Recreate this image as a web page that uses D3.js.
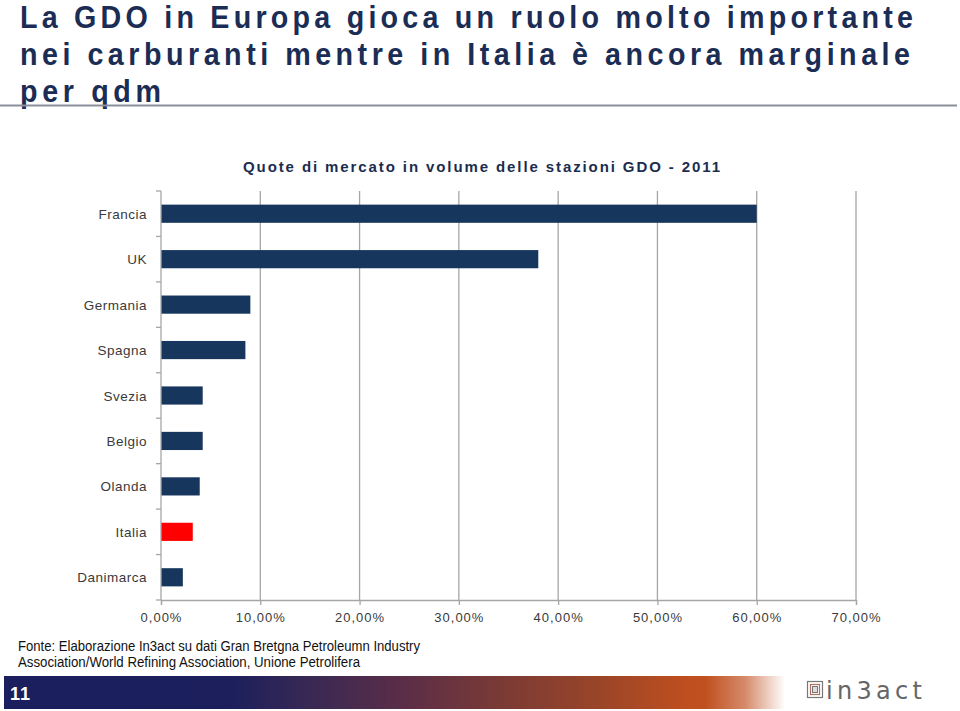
<!DOCTYPE html>
<html><head><meta charset="utf-8">
<script src="https://cdn.jsdelivr.net/npm/d3@7"></script>
<style>
html,body{margin:0;padding:0;background:#fff;}
svg{display:block;}
</style></head>
<body>
<script>
const categories = ["Francia","UK","Germania","Spagna","Svezia","Belgio","Olanda","Italia","Danimarca"];
const values = [60.0, 38.0, 9.0, 8.5, 4.2, 4.2, 3.9, 3.2, 2.2];
const highlight = ["Italia"];
const xTicks = [0,10,20,30,40,50,60,70];
const titleLines = ["La GDO in Europa gioca un ruolo molto importante","nei carburanti mentre in Italia è ancora marginale","per qdm"];
const chartTitle = "Quote di mercato in volume delle stazioni GDO - 2011";
const sourceLines = ["Fonte: Elaborazione In3act su dati Gran Bretgna Petroleumn Industry","Association/World Refining Association, Unione Petrolifera"];
const pageNumber = "11";

const W = 960, H = 711;
const svg = d3.select("body").append("svg").attr("width", W).attr("height", H);

// Title (bold, letter-spaced)
const titleColor = "#1b2d55";
const sx = 0.94;
const tl = [[20,28,893],[20,65,890],[20,102,141]];
titleLines.forEach((t,i)=>{
  svg.append("g").attr("transform",`translate(${tl[i][0]},${tl[i][1]}) scale(${sx},1)`)
    .append("text").attr("x",0).attr("y",0)
    .attr("font-family","Liberation Sans, Arial, sans-serif").attr("font-weight","bold")
    .attr("font-size",30.5).attr("fill",titleColor)
    .attr("textLength",tl[i][2]/sx).attr("lengthAdjust","spacing").text(t);
});
svg.append("line").attr("x1",0).attr("x2",957).attr("y1",105.5).attr("y2",105.5)
  .attr("stroke","#8a8f99").attr("stroke-width",2);

// Chart title
svg.append("text").attr("x",243).attr("y",172)
  .attr("font-family","Liberation Sans, Arial, sans-serif").attr("font-weight","bold")
  .attr("font-size",15).attr("fill","#1b2d4f")
  .attr("textLength",477).attr("lengthAdjust","spacing").text(chartTitle);

// Scales
const x = d3.scaleLinear().domain([0,70]).range([161,856]);
const y = d3.scaleBand().domain(categories).range([191,600]).paddingInner(0.6).paddingOuter(0.3);

// Gridlines
svg.append("g").selectAll("line").data(xTicks.filter(d=>d>0)).join("line")
  .attr("x1",d=>x(d)).attr("x2",d=>x(d)).attr("y1",191).attr("y2",600)
  .attr("stroke","#a6a6a6").attr("stroke-width",1.3);

// Bars
svg.append("g").selectAll("rect").data(categories).join("rect")
  .attr("x",x(0)).attr("y",d=>y(d)).attr("height",y.bandwidth())
  .attr("width",(d,i)=>x(values[i])-x(0))
  .attr("fill",d=>highlight.includes(d)?"#ff0000":"#17365d");

// Y axis
const step = y.step();
svg.append("line").attr("x1",161).attr("x2",161).attr("y1",191).attr("y2",600)
  .attr("stroke","#a6a6a6").attr("stroke-width",1.3);
svg.append("g").selectAll("line").data(d3.range(categories.length+1)).join("line")
  .attr("x1",156).attr("x2",161).attr("y1",i=>191+i*step).attr("y2",i=>191+i*step)
  .attr("stroke","#a6a6a6").attr("stroke-width",1.3);
svg.append("g").selectAll("text").data(categories).join("text")
  .attr("x",147).attr("y",d=>y(d)+y.bandwidth()/2+5)
  .attr("text-anchor","end").attr("font-family","Liberation Sans, Arial, sans-serif")
  .attr("font-size",13.5).attr("letter-spacing",0.5).attr("fill","#3a3a3a").text(d=>d);

// X axis
const xAxis = d3.axisBottom(x).tickValues(xTicks).tickSize(5).tickPadding(8)
  .tickFormat(d=>d3.format(".2f")(d).replace(".",",")+"%");
const gx = svg.append("g").attr("transform","translate(0,600)").call(xAxis);
gx.select(".domain").attr("stroke","#a6a6a6").attr("stroke-width",1.3);
gx.selectAll(".tick line").attr("stroke","#a6a6a6").attr("stroke-width",1.3);
gx.selectAll(".tick text").attr("font-family","Liberation Sans, Arial, sans-serif")
  .attr("font-size",13).attr("letter-spacing",1).attr("fill","#3a3a3a");

// Source (condensed)
const srcLen = [402, 342];
sourceLines.forEach((t,i)=>{
  svg.append("text").attr("x",18).attr("y",651+i*15.5)
    .attr("font-family","Liberation Sans, Arial, sans-serif")
    .attr("font-size",14).attr("fill","#111")
    .attr("textLength",srcLen[i]).attr("lengthAdjust","spacingAndGlyphs").text(t);
});

// Footer band
const defs = svg.append("defs");
const grad = defs.append("linearGradient").attr("id","fg").attr("gradientUnits","userSpaceOnUse")
  .attr("x1",4).attr("x2",960).attr("y1",0).attr("y2",0);
const gstops = [[4,"#1b1f5e"],[230,"#1c1f5c"],[300,"#352855"],[400,"#5a2d48"],[500,"#7a3a35"],[600,"#9a4528"],[690,"#c04f1f"],[705,"#c0501f"],[745,"#d58a6a"],[785,"#ffffff"],[960,"#ffffff"]];
gstops.forEach(s=>grad.append("stop").attr("offset",(s[0]-4)/956).attr("stop-color",s[1]));
svg.append("rect").attr("x",4).attr("y",676).attr("width",956).attr("height",33).attr("fill","url(#fg)");
svg.append("text").attr("x",10).attr("y",700).attr("font-family","Liberation Sans, Arial, sans-serif")
  .attr("font-weight","bold").attr("font-size",18).attr("letter-spacing",1).attr("fill","#fff").text(pageNumber);

// Logo
const lg = svg.append("g");
lg.append("rect").attr("x",807.5).attr("y",681.5).attr("width",15).attr("height",16).attr("fill","none").attr("stroke","#777").attr("stroke-width",1.2);
lg.append("rect").attr("x",810.5).attr("y",684.5).attr("width",9).attr("height",10).attr("fill","none").attr("stroke","#b07060").attr("stroke-width",1.2);
lg.append("rect").attr("x",812.5).attr("y",686.5).attr("width",5).attr("height",6).attr("fill","#ddd").attr("stroke","#777").attr("stroke-width",1);
lg.append("text").attr("x",826).attr("y",699).attr("font-family","DejaVu Sans, sans-serif")
  .attr("font-size",24).attr("fill","#666").attr("textLength",96).attr("lengthAdjust","spacing").text("in3act");
</script>
</body></html>
